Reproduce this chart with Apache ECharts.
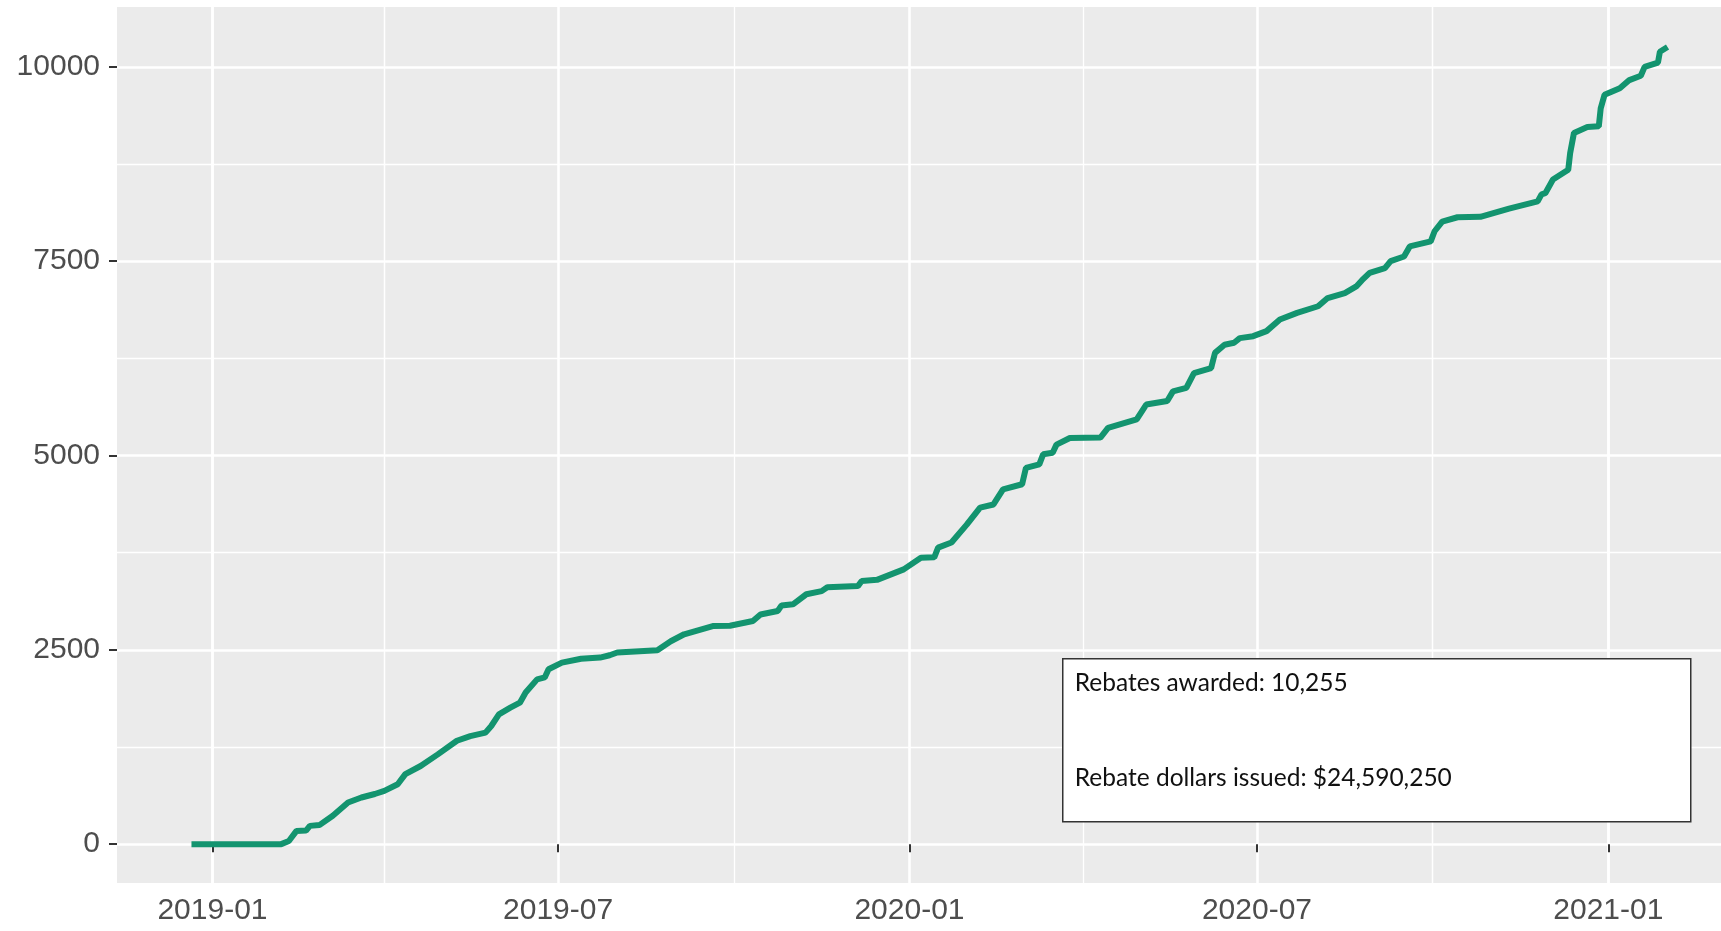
<!DOCTYPE html>
<html>
<head>
<meta charset="utf-8">
<title>Rebates awarded</title>
<script src="https://cdn.jsdelivr.net/npm/echarts@6/dist/echarts.min.js"></script>
<style>
  html, body { margin: 0; padding: 0; background: #fff; }
  .chart { width: 1721px; height: 931px; }
</style>
</head>
<body>
<div class="chart"></div>
<script>
// cumulative rebates
const dates = [
  '2018-12-21', '2019-02-06', '2019-02-10', '2019-02-14', '2019-02-19', '2019-02-21', '2019-02-26',
  '2019-03-05', '2019-03-13', '2019-03-20', '2019-03-27', '2019-04-01', '2019-04-08', '2019-04-12',
  '2019-04-20', '2019-04-29', '2019-05-09', '2019-05-16', '2019-05-24', '2019-05-27', '2019-05-31',
  '2019-06-06', '2019-06-11', '2019-06-14', '2019-06-20', '2019-06-24', '2019-06-26', '2019-07-03',
  '2019-07-13', '2019-07-23', '2019-07-28', '2019-08-01', '2019-08-22', '2019-08-29', '2019-09-05',
  '2019-09-20', '2019-09-29', '2019-10-11', '2019-10-15', '2019-10-24', '2019-10-26', '2019-11-01',
  '2019-11-08', '2019-11-16', '2019-11-19', '2019-12-05', '2019-12-07', '2019-12-15', '2019-12-29',
  '2020-01-07', '2020-01-14', '2020-01-16', '2020-01-23', '2020-01-31', '2020-02-07', '2020-02-14',
  '2020-02-19', '2020-02-29', '2020-03-02', '2020-03-09', '2020-03-11', '2020-03-16', '2020-03-18',
  '2020-03-25', '2020-04-10', '2020-04-14', '2020-04-29', '2020-05-04', '2020-05-15', '2020-05-18',
  '2020-05-25', '2020-05-29', '2020-06-07', '2020-06-09', '2020-06-14', '2020-06-19', '2020-06-22',
  '2020-06-29', '2020-07-06', '2020-07-13', '2020-07-22', '2020-08-02', '2020-08-07', '2020-08-16',
  '2020-08-22', '2020-08-25', '2020-08-29', '2020-09-06', '2020-09-09', '2020-09-16', '2020-09-19',
  '2020-09-30', '2020-10-02', '2020-10-06', '2020-10-14', '2020-10-26', '2020-11-10', '2020-11-25',
  '2020-11-27', '2020-11-29', '2020-12-03', '2020-12-11', '2020-12-12', '2020-12-14', '2020-12-21',
  '2020-12-27', '2020-12-28', '2020-12-30', '2021-01-07', '2021-01-12', '2021-01-18', '2021-01-20',
  '2021-01-27', '2021-01-28', '2021-02-01'
]
const rebates = [
  0, 0, 40, 170, 175, 235, 245,
  365, 535, 600, 645, 685, 770, 900,
  1005, 1155, 1330, 1390, 1435, 1520, 1670,
  1755, 1820, 1950, 2120, 2145, 2250, 2335,
  2385, 2400, 2430, 2465, 2495, 2610, 2700,
  2805, 2810, 2870, 2955, 3000, 3070, 3085,
  3215, 3255, 3305, 3320, 3385, 3400, 3535,
  3685, 3690, 3815, 3880, 4110, 4330, 4370,
  4565, 4630, 4840, 4885, 5015, 5035, 5140,
  5225, 5230, 5355, 5465, 5655, 5700, 5825,
  5870, 6060, 6125, 6320, 6425, 6450, 6510,
  6535, 6600, 6750, 6835, 6920, 7025, 7090,
  7175, 7255, 7350, 7410, 7500, 7560, 7690,
  7755, 7885, 8010, 8065, 8070, 8175, 8270,
  8360, 8375, 8550, 8675, 8890, 9150, 9225,
  9235, 9465, 9640, 9725, 9830, 9885, 10000,
  10055, 10195, 10255
]

// axis breaks
const xMajor = ['2019-01-01', '2019-07-01', '2020-01-01', '2020-07-01', '2021-01-01']
const xMinor = ['2019-04-01', '2019-10-01', '2020-04-01', '2020-10-01']
const yMajor = [0, 2500, 5000, 7500, 10000]
const yMinor = [1250, 3750, 6250, 8750]

const summary = ['Rebates awarded: 10,255', 'Rebate dollars issued: $24,590,250']

;(function () {
  let myChart = echarts.init(document.querySelector('.chart'))

  const xRange = { min: '2018-11-12', max: '2021-03-01' }
  const yRange = { min: -500, max: 10770 }
  const labelStyle = {
    color: '#4d4d4d',
    fontSize: 30,
    fontFamily: 'Liberation Sans, Arial, sans-serif'
  }
  const noteFont = '24.5px Lato, "Open Sans", sans-serif'

  let option = {
    animation: false,
    backgroundColor: '#fff',
    grid: {
      left: 117,
      right: 0,
      top: 7,
      bottom: 48,
      // keep the panel where it is, labels may sit outside
      outerBoundsMode: 'none',
      containLabel: false,
      show: true,
      backgroundColor: '#ebebeb',
      borderWidth: 0
    },
    xAxis: [
      // minor grid only
      {
        type: 'time',
        position: 'bottom',
        min: xRange.min,
        max: xRange.max,
        axisLine: { show: false },
        axisTick: { show: false, customValues: xMinor },
        axisLabel: { show: false, customValues: xMinor },
        splitLine: { show: true, lineStyle: { color: '#fff', width: 1.3 } }
      },
      {
        type: 'time',
        position: 'bottom',
        min: xRange.min,
        max: xRange.max,
        axisLine: { show: false },
        axisTick: {
          show: true,
          length: 8,
          customValues: xMajor,
          lineStyle: { color: '#333', width: 2 }
        },
        axisLabel: Object.assign({
          customValues: xMajor,
          margin: 13,
          formatter: '{yyyy}-{MM}'
        }, labelStyle),
        splitLine: { show: true, lineStyle: { color: '#fff', width: 2.6 } }
      }
    ],
    yAxis: [
      {
        type: 'value',
        position: 'left',
        min: yRange.min,
        max: yRange.max,
        axisLine: { show: false },
        axisTick: { show: false, customValues: yMinor },
        axisLabel: { show: false, customValues: yMinor },
        splitLine: { show: true, lineStyle: { color: '#fff', width: 1.3 } }
      },
      {
        type: 'value',
        position: 'left',
        min: yRange.min,
        max: yRange.max,
        axisLine: { show: false },
        axisTick: {
          show: true,
          length: 8,
          customValues: yMajor,
          lineStyle: { color: '#333', width: 2 }
        },
        axisLabel: Object.assign({
          customValues: yMajor,
          margin: 17,
          formatter: function (v) { return String(v) }
        }, labelStyle),
        splitLine: { show: true, lineStyle: { color: '#fff', width: 2.6 } }
      }
    ],
    series: [
      {
        name: 'Rebates',
        type: 'line',
        xAxisIndex: 1,
        yAxisIndex: 1,
        showSymbol: false,
        smooth: false,
        lineStyle: { color: '#13946f', width: 6 },
        data: dates.map((d, i) => [d, rebates[i]])
      }
    ],
    // annotation box
    graphic: [
      {
        type: 'group',
        left: 1062,
        top: 658,
        z: 100,
        children: [
          {
            type: 'rect',
            z: 100,
            shape: { x: 0, y: 0, width: 628, height: 163 },
            style: { fill: '#fff', stroke: '#333', lineWidth: 1.5 }
          },
          {
            type: 'text',
            z: 101,
            x: 12,
            y: 24,
            style: {
              text: summary[0],
              fill: '#111',
              font: noteFont,
              verticalAlign: 'middle'
            }
          },
          {
            type: 'text',
            z: 101,
            x: 12,
            y: 119,
            style: {
              text: summary[1],
              fill: '#111',
              font: noteFont,
              verticalAlign: 'middle'
            }
          }
        ]
      }
    ]
  }

  myChart.setOption(option)

  window.addEventListener('resize', function () {
    myChart.resize()
  })
})();
</script>
</body>
</html>
